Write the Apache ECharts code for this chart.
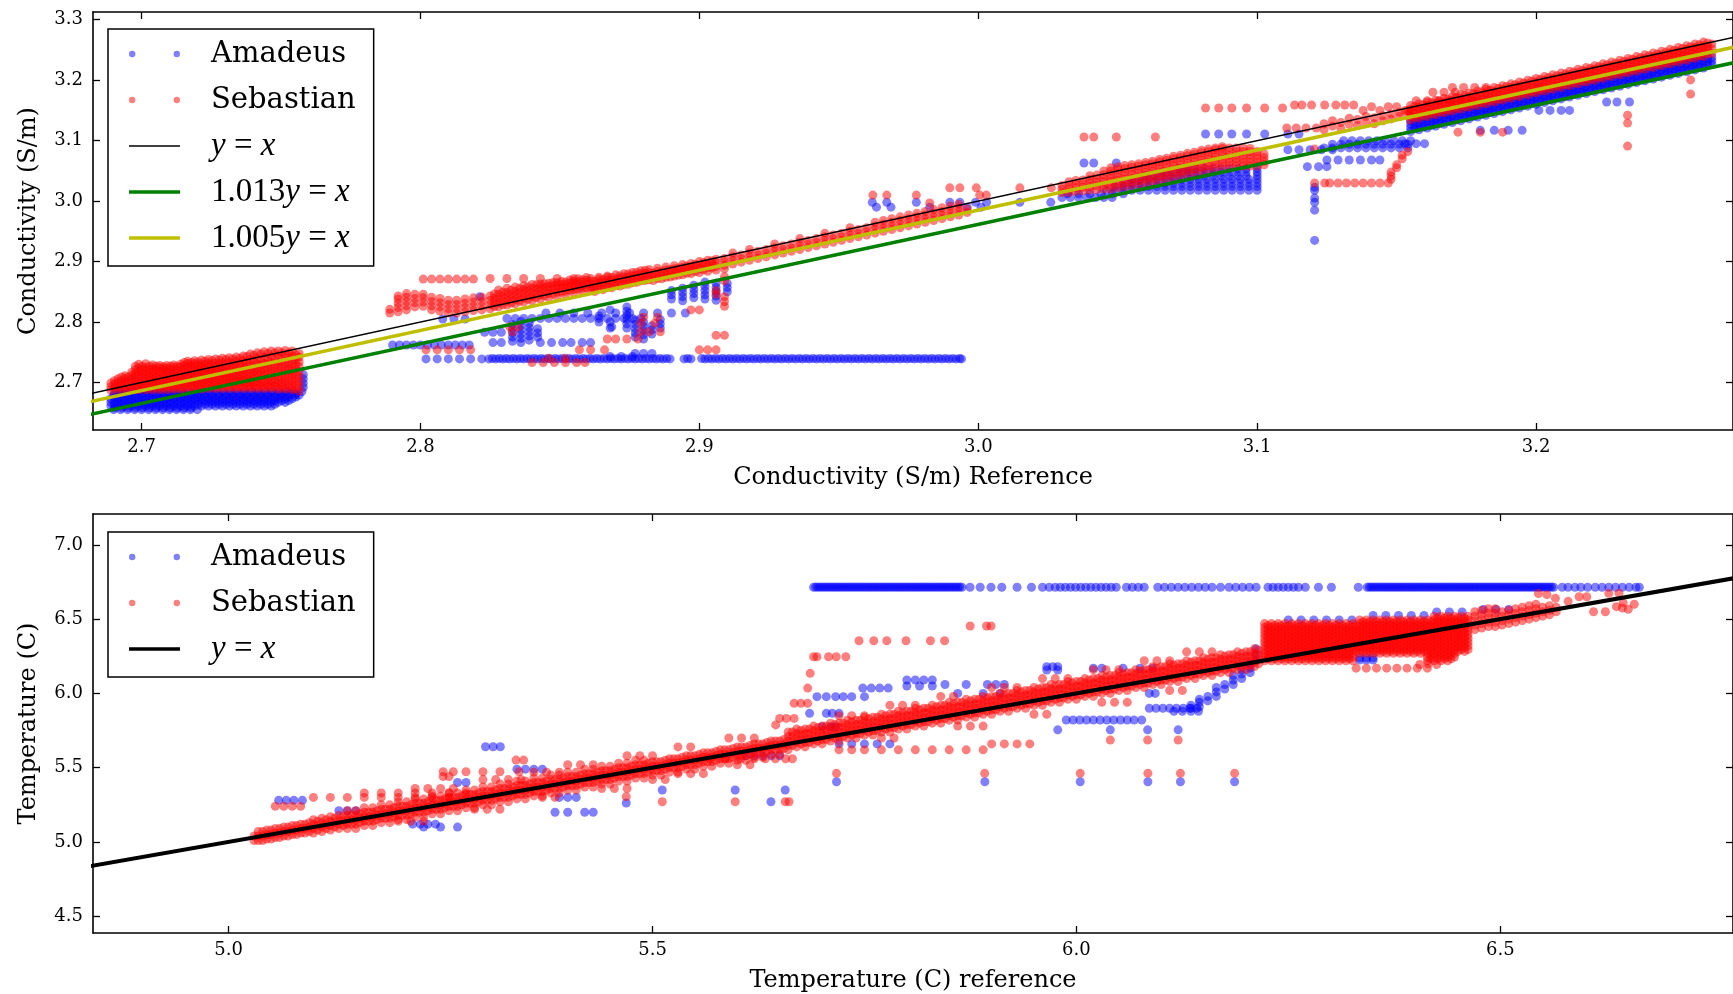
<!DOCTYPE html>
<html><head><meta charset="utf-8">
<script src="https://cdn.jsdelivr.net/npm/echarts@6.0.0/dist/echarts.min.js"></script>
<style>html,body{margin:0;padding:0;background:#fff;}#chart{width:1733px;height:994px;}</style>
</head><body><div id="chart"></div><script>
// ---------- axis ranges and ticks ----------
const condXRange = [2.6826, 3.2706];
const condYRange = [2.6214, 3.3128];
const condXTicks = [2.7, 2.8, 2.9, 3.0, 3.1, 3.2];
const condYTicks = [2.7, 2.8, 2.9, 3.0, 3.1, 3.2, 3.3];
const tempXRange = [4.840, 6.7745];
const tempYRange = [4.387, 7.208];
const tempXTicks = [5.0, 5.5, 6.0, 6.5];
const tempYTicks = [4.5, 5.0, 5.5, 6.0, 6.5, 7.0];

// ---------- reference lines (endpoints) ----------
const condLineX = [2.68, 3.28];
const condLineEq = [2.68, 3.28];       // y = x
const condLine1013 = [2.6456, 3.2379]; // 1.013y = x
const condLine1005 = [2.6667, 3.2637]; // 1.005y = x
const tempLineX = [4.8, 6.8];
const tempLineEq = [4.8, 6.8];         // y = x

// rows: [y, x1, x2, ...]   cols: [x, y1, y2, ...]
// ---------- conductivity: Amadeus ----------
const condAmadeusRows = [
[2.655,2.690,2.6925,2.695,2.6975,2.700,2.7025,2.705,2.7075,2.710,2.7125,2.715,2.7175,2.720],
[2.661,2.689,2.6915,2.694,2.6965,2.699,2.7015,2.704,2.7065,2.709,2.7115,2.714,2.7165,2.719,2.7215,2.724,2.7265,2.729,2.7315,2.734,2.7365,2.739,2.7415,2.744,2.7465],
[2.667,2.689,2.6915,2.694,2.6965,2.699,2.7015,2.704,2.7065,2.709,2.7115,2.714,2.7165,2.719,2.7215,2.724,2.7265,2.729,2.7315,2.734,2.7365,2.739,2.7415,2.744,2.7465,2.749,2.7515],
[2.673,2.689,2.6915,2.694,2.6965,2.699,2.7015,2.704,2.7065,2.709,2.7115,2.714,2.7165,2.719,2.7215,2.724,2.7265,2.729,2.7315,2.734,2.7365,2.739,2.7415,2.744,2.7465,2.749,2.7515,2.754],
[2.679,2.690,2.6925,2.695,2.6975,2.700,2.7025,2.705,2.7075,2.710,2.7125,2.715,2.7175,2.720,2.7225,2.725,2.7275,2.730,2.7325,2.735,2.7375,2.740,2.7425,2.745,2.7475,2.750,2.7525,2.755,2.7565],
[2.685,2.692,2.6945,2.697,2.6995,2.702,2.7045,2.707,2.7095,2.712,2.7145,2.717,2.7195,2.722,2.7245,2.727,2.7295,2.732,2.7345,2.737,2.7395,2.742,2.7445,2.747,2.7495,2.752,2.7545,2.7575],
[2.658,2.6903,2.6928,2.6953,2.6978,2.7003,2.7028,2.7053,2.7078,2.7103,2.7128,2.7153,2.7178],
[2.664,2.6903,2.6928,2.6953,2.6978,2.7003,2.7028,2.7053,2.7078,2.7103,2.7128,2.7153,2.7178,2.7203,2.7228,2.7253,2.7278,2.7303,2.7328,2.7353,2.7378,2.7403,2.7428,2.7453,2.7478],
[2.670,2.6903,2.6928,2.6953,2.6978,2.7003,2.7028,2.7053,2.7078,2.7103,2.7128,2.7153,2.7178,2.7203,2.7228,2.7253,2.7278,2.7303,2.7328,2.7353,2.7378,2.7403,2.7428,2.7453,2.7478,2.7503,2.7528],
[2.676,2.6903,2.6928,2.6953,2.6978,2.7003,2.7028,2.7053,2.7078,2.7103,2.7128,2.7153,2.7178,2.7203,2.7228,2.7253,2.7278,2.7303,2.7328,2.7353,2.7378,2.7403,2.7428,2.7453,2.7478,2.7503,2.7528,2.7553],
[2.682,2.6903,2.6928,2.6953,2.6978,2.7003,2.7028,2.7053,2.7078,2.7103,2.7128,2.7153,2.7178,2.7203,2.7228,2.7253,2.7278,2.7303,2.7328,2.7353,2.7378,2.7403,2.7428,2.7453,2.7478,2.7503,2.7528,2.7553],
[2.762,2.790,2.7925,2.795,2.7975,2.800,2.8025,2.805,2.8075,2.810,2.8125,2.815,2.8175],
[2.739,2.802,2.806,2.810,2.814,2.818,2.822,2.8245,2.827,2.8295,2.832,2.8345,2.837,2.8395,2.842,2.8445,2.847,2.8495,2.852,2.8545,2.857,2.8595,2.862,2.8645,2.867,2.8695,2.872,2.8745,2.877,2.8795,2.882,2.8845,2.887,2.8895,2.8945,2.897,2.902,2.9045,2.907,2.9095,2.912,2.9145,2.917,2.9195,2.922,2.9245,2.927,2.9295,2.932,2.9345,2.937,2.9395,2.942,2.9445,2.947,2.9495,2.952,2.9545,2.957,2.9595,2.962,2.9645,2.967,2.9695,2.972,2.9745,2.977,2.9795,2.982,2.9845,2.987,2.9895,2.992,2.994],
[2.7395,2.8258,2.8283,2.8308,2.8333,2.8358,2.8383,2.8408,2.8433,2.8458,2.8483,2.8508,2.8533,2.8558,2.8583,2.8608,2.8633,2.8658,2.8683,2.8708,2.8733,2.8758,2.8783,2.8808,2.8833,2.8858,2.8883,2.8958,2.9008,2.9033,2.9058,2.9083,2.9108,2.9133,2.9158,2.9183,2.9208,2.9233,2.9258,2.9283,2.9308,2.9333,2.9358,2.9383,2.9408,2.9433,2.9458,2.9483,2.9508,2.9533,2.9558,2.9583,2.9608,2.9633,2.9658,2.9683,2.9708,2.9733,2.9758,2.9783,2.9808,2.9833,2.9858,2.9883,2.9908,2.9933],
[2.743,2.868,2.872,2.876],
[2.805,2.808,2.812,2.816],
[2.842,2.8213],
[2.806,2.831,2.834,2.837,2.840,2.843,2.846,2.849,2.852,2.855,2.858,2.861,2.864,2.867,2.870,2.873,2.876,2.879],
[2.815,2.845,2.850,2.855,2.860,2.865,2.870,2.875,2.880,2.885,2.890,2.895],
[2.766,2.826,2.829,2.843,2.847,2.851,2.854,2.858,2.861],
[2.792,2.8686],
[2.748,2.877,2.880,2.883],
[2.783,2.823,2.826,2.829],
[2.998,2.962,2.9672,2.9778,2.9898,2.9934,2.999,3.003,3.0149,3.026],
[2.990,2.9635,2.9687,2.9826,2.996,3.001],
[3.063,3.0379,3.0414,3.0495],
[3.006,3.030,3.033,3.036,3.039,3.042,3.045,3.048],
[3.012,3.032,3.036,3.040,3.044,3.048,3.052],
[3.018,3.046,3.049,3.052,3.055,3.058,3.061,3.064,3.067,3.070,3.073,3.076,3.079,3.082,3.085,3.088,3.091,3.094,3.097,3.100],
[3.024,3.049,3.052,3.055,3.058,3.061,3.064,3.067,3.070,3.073,3.076,3.079,3.082,3.085,3.088,3.091,3.094,3.097,3.100],
[3.030,3.052,3.055,3.058,3.061,3.064,3.067,3.070,3.073,3.076,3.079,3.082,3.085,3.088,3.091,3.094,3.097,3.100],
[3.036,3.055,3.058,3.061,3.064,3.067,3.070,3.073,3.076,3.079,3.082,3.085,3.088,3.091,3.094,3.097,3.100],
[3.042,3.060,3.063,3.066,3.069,3.072,3.075,3.078,3.081,3.084,3.087,3.090,3.093,3.096,3.100],
[3.048,3.066,3.069,3.072,3.075,3.078,3.081,3.084,3.087,3.090,3.093,3.096,3.100],
[3.054,3.072,3.075,3.078,3.081,3.084,3.087,3.090,3.093,3.096,3.100],
[3.111,3.0815,3.0862,3.0909,3.0962,3.1027,3.111,3.115],
[3.085,3.111,3.115,3.119,3.123,3.127],
[3.088,3.124,3.127,3.130,3.133,3.136,3.139,3.142,3.145,3.148,3.151,3.154],
[3.094,3.127,3.130,3.133,3.136,3.139,3.142,3.145,3.148,3.151,3.154],
[3.100,3.131,3.134,3.137,3.140,3.143,3.146,3.149,3.152,3.155],
[3.068,3.125,3.129,3.133,3.137,3.141,3.144],
[3.057,3.118,3.122,3.125],
[3.095,3.153,3.157,3.160],
[3.150,3.201,3.205,3.209,3.212],
[3.164,3.2253,3.229,3.2335],
[3.117,3.180,3.185,3.190,3.195]
];
const condAmadeusCols = [
[2.758,2.692,2.699,2.706,2.713],
[2.833,2.768,2.775,2.782,2.789,2.796],
[2.836,2.766,2.773,2.780,2.787,2.794,2.801],
[2.839,2.770,2.777,2.784,2.791,2.798],
[2.842,2.775,2.782,2.789],
[2.864,2.800,2.810],
[2.868,2.790,2.800,2.820],
[2.874,2.790,2.797,2.804,2.811,2.818,2.825],
[2.877,2.775,2.782,2.789,2.796,2.803],
[2.880,2.772,2.779,2.786,2.793,2.800],
[2.883,2.780,2.787,2.794],
[2.886,2.790,2.797,2.804],
[2.890,2.838,2.845,2.852],
[2.894,2.835,2.842,2.849,2.856],
[2.898,2.840,2.847,2.854,2.861],
[2.902,2.838,2.845,2.852,2.859,2.866],
[2.906,2.836,2.843,2.850,2.857,2.864],
[2.910,2.850,2.857,2.864],
[3.1206,3.023,3.018,3.005,2.998,2.985,2.935],
[3.155,3.115,3.121,3.127,3.133],[3.158,3.118,3.124,3.130,3.136],[3.161,3.121,3.127,3.133,3.139],
[3.164,3.124,3.130,3.136,3.142],[3.167,3.127,3.133,3.139,3.145],[3.170,3.130,3.136,3.142,3.148],
[3.173,3.133,3.139,3.145,3.151],[3.176,3.136,3.142,3.148,3.154],[3.179,3.139,3.145,3.151,3.157],
[3.182,3.142,3.148,3.154,3.160],[3.185,3.145,3.151,3.157,3.163],[3.188,3.148,3.154,3.160,3.166],
[3.191,3.151,3.157,3.163,3.169],[3.194,3.154,3.160,3.166,3.172],[3.197,3.157,3.163,3.169,3.175],
[3.200,3.160,3.166,3.172,3.178],[3.203,3.163,3.169,3.175,3.181],[3.206,3.166,3.172,3.178,3.184],
[3.209,3.169,3.175,3.181,3.187],[3.212,3.172,3.178,3.184,3.190],[3.215,3.175,3.181,3.187,3.193],
[3.218,3.178,3.184,3.190,3.196],[3.221,3.181,3.187,3.193,3.199],[3.224,3.184,3.190,3.196,3.202],
[3.227,3.187,3.193,3.199,3.205],[3.230,3.190,3.196,3.202,3.208],[3.233,3.193,3.199,3.205,3.211],
[3.236,3.196,3.202,3.208,3.214],[3.239,3.199,3.205,3.211,3.217],[3.242,3.202,3.208,3.214,3.220],
[3.245,3.205,3.211,3.217,3.223],[3.248,3.208,3.214,3.220,3.226],[3.251,3.211,3.217,3.223,3.229],
[3.254,3.214,3.220,3.226,3.232],[3.257,3.217,3.223,3.229,3.235],[3.260,3.220,3.226,3.232,3.238],
[3.263,3.226,3.232,3.238],
[3.1565,3.1195,3.1255,3.1315],[3.1595,3.1225,3.1285,3.1345],[3.1625,3.1255,3.1315,3.1375],
[3.1655,3.1285,3.1345,3.1405],[3.1685,3.1315,3.1375,3.1435],[3.1715,3.1345,3.1405,3.1465],
[3.1745,3.1375,3.1435,3.1495],[3.1775,3.1405,3.1465,3.1525],[3.1805,3.1435,3.1495,3.1555],
[3.1835,3.1465,3.1525,3.1585],[3.1865,3.1495,3.1555,3.1615],[3.1895,3.1525,3.1585,3.1645],
[3.1925,3.1555,3.1615,3.1675],[3.1955,3.1585,3.1645,3.1705],[3.1985,3.1615,3.1675,3.1735],
[3.2015,3.1645,3.1705,3.1765],[3.2045,3.1675,3.1735,3.1795],[3.2075,3.1705,3.1765,3.1825],
[3.2105,3.1735,3.1795,3.1855],[3.2135,3.1765,3.1825,3.1885],[3.2165,3.1795,3.1855,3.1915],
[3.2195,3.1825,3.1885,3.1945],[3.2225,3.1855,3.1915,3.1975],[3.2255,3.1885,3.1945,3.2005],
[3.2285,3.1915,3.1975,3.2035],[3.2315,3.1945,3.2005,3.2065],[3.2345,3.1975,3.2035,3.2095],
[3.2375,3.2005,3.2065,3.2125],[3.2405,3.2035,3.2095,3.2155],[3.2435,3.2065,3.2125,3.2185],
[3.2465,3.2095,3.2155,3.2215],[3.2495,3.2125,3.2185,3.2245],[3.2525,3.2155,3.2215,3.2275],
[3.2555,3.2185,3.2245,3.2305],[3.2585,3.2215,3.2275,3.2335],[3.2615,3.2245,3.2305,3.2365]
];

// ---------- conductivity: Sebastian ----------
const condSebastianRows = [
[2.754,2.802,2.806,2.810,2.814,2.818,2.857,2.861,2.866,2.900,2.903,2.906],
[2.772,2.867,2.870,2.874,2.878],
[2.733,2.840,2.844,2.848,2.852,2.856,2.859],
[2.740,2.846,2.852],
[2.792,2.832,2.835],
[2.784,2.833,2.879,2.882,2.886],
[2.798,2.879,2.884],
[2.808,2.880,2.885],
[2.820,2.897,2.900],
[2.778,2.906,2.909],
[3.010,2.9622,2.9672,2.9778,3.0005,3.0029],
[3.022,2.9898,2.9934,2.9993,3.0149,3.0262],
[2.997,2.9826],
[3.106,3.0379,3.0414,3.0495,3.0635],
[3.154,3.0815,3.0862,3.0909,3.0962,3.1027,3.1091],
[3.159,3.1134,3.116,3.1195,3.1242,3.1282,3.1314,3.1346],
[3.150,3.138,3.144,3.153],
[3.156,3.141,3.147,3.150],
[3.166,3.157,3.161,3.165,3.169,3.173,3.177],
[3.180,3.163,3.167,3.171],
[3.188,3.170,3.174,3.178,3.182],
[3.121,3.1106,3.114,3.1175,3.1212],
[3.030,3.1206,3.1242,3.126,3.129,3.132,3.135,3.138,3.141,3.144,3.147],
[3.086,3.1206],
[3.114,3.172,3.180,3.188]
];
const condSebastianCols = [
// low-left cluster
[2.689,2.687,2.693,2.699],
[2.6915,2.688,2.694,2.700,2.706],
[2.694,2.688,2.694,2.700,2.706,2.711],
[2.6965,2.688,2.694,2.700,2.706,2.712,2.717],
[2.699,2.688,2.694,2.700,2.706,2.712,2.718,2.724,2.730],
[2.7015,2.688,2.694,2.700,2.706,2.712,2.718,2.724,2.731],
[2.704,2.688,2.694,2.700,2.706,2.712,2.718,2.724,2.729],
[2.7065,2.688,2.694,2.700,2.706,2.712,2.718,2.724,2.728],
[2.709,2.688,2.694,2.700,2.706,2.712,2.718,2.724,2.728],
[2.7115,2.689,2.695,2.701,2.707,2.713,2.719,2.725,2.729],
[2.714,2.689,2.695,2.701,2.707,2.713,2.719,2.725,2.730],
[2.7165,2.689,2.695,2.701,2.707,2.713,2.719,2.725,2.731,2.735],
[2.719,2.689,2.695,2.701,2.707,2.713,2.719,2.725,2.731,2.736],
[2.7215,2.689,2.695,2.701,2.707,2.713,2.719,2.725,2.731,2.737],
[2.724,2.690,2.696,2.702,2.708,2.714,2.720,2.726,2.732,2.738],
[2.7265,2.690,2.696,2.702,2.708,2.714,2.720,2.726,2.732,2.739],
[2.729,2.690,2.696,2.702,2.708,2.714,2.720,2.726,2.733,2.740],
[2.7315,2.690,2.696,2.702,2.708,2.714,2.720,2.726,2.734,2.741],
[2.734,2.690,2.696,2.702,2.708,2.714,2.720,2.727,2.735,2.742],
[2.7365,2.690,2.696,2.702,2.708,2.714,2.721,2.728,2.736,2.744],
[2.739,2.690,2.696,2.702,2.708,2.715,2.722,2.730,2.738,2.747],
[2.7415,2.690,2.696,2.702,2.709,2.716,2.723,2.731,2.740,2.749],
[2.744,2.690,2.696,2.703,2.710,2.717,2.724,2.732,2.742,2.751],
[2.7465,2.690,2.696,2.703,2.710,2.718,2.726,2.734,2.743,2.752],
[2.749,2.689,2.696,2.703,2.710,2.718,2.726,2.734,2.744,2.752],
[2.7515,2.689,2.696,2.703,2.711,2.719,2.727,2.735,2.744,2.753],
[2.754,2.688,2.695,2.703,2.711,2.719,2.727,2.735,2.744,2.752],
[2.7565,2.686,2.694,2.702,2.710,2.718,2.726,2.734,2.742,2.748],
[2.6903,2.691,2.697,2.703],
[2.6928,2.691,2.697,2.703,2.709],
[2.6953,2.691,2.697,2.703,2.709],
[2.6978,2.691,2.697,2.703,2.709,2.715,2.721,2.727],
[2.7003,2.691,2.697,2.703,2.709,2.715,2.721,2.727],
[2.7028,2.691,2.697,2.703,2.709,2.715,2.721,2.727],
[2.7053,2.691,2.697,2.703,2.709,2.715,2.721,2.727],
[2.7078,2.691,2.697,2.703,2.709,2.715,2.721,2.726],
[2.7103,2.691,2.697,2.703,2.709,2.715,2.721,2.727],
[2.7128,2.691,2.697,2.703,2.709,2.715,2.721,2.727],
[2.7153,2.692,2.698,2.704,2.710,2.716,2.722,2.728,2.733],
[2.7178,2.692,2.698,2.704,2.710,2.716,2.722,2.728,2.733],
[2.7203,2.692,2.698,2.704,2.710,2.716,2.722,2.728,2.734],
[2.7228,2.693,2.699,2.705,2.711,2.717,2.723,2.729,2.735],
[2.7253,2.693,2.699,2.705,2.711,2.717,2.723,2.729,2.736],
[2.7278,2.693,2.699,2.705,2.711,2.717,2.723,2.730,2.737],
[2.7303,2.693,2.699,2.705,2.711,2.717,2.723,2.730,2.738],
[2.7328,2.693,2.699,2.705,2.711,2.717,2.724,2.731,2.739],
[2.7353,2.693,2.699,2.705,2.711,2.718,2.725,2.732,2.740],
[2.7378,2.693,2.699,2.705,2.712,2.719,2.726,2.734,2.743],
[2.7403,2.693,2.699,2.706,2.713,2.720,2.727,2.736,2.745],
[2.7428,2.693,2.699,2.706,2.713,2.721,2.729,2.737,2.747],
[2.7453,2.693,2.699,2.706,2.714,2.722,2.730,2.738,2.748],
[2.7478,2.693,2.699,2.706,2.714,2.722,2.730,2.739,2.749],
[2.7503,2.692,2.699,2.707,2.715,2.723,2.731,2.740,2.749],
[2.7528,2.692,2.699,2.707,2.715,2.723,2.731,2.740,2.749],
[2.7553,2.690,2.698,2.706,2.714,2.722,2.730,2.738,2.746],
// 2.79 - 2.91
[2.789,2.815,2.821],
[2.792,2.817,2.824,2.831,2.838,2.843],
[2.795,2.820,2.827,2.834,2.841,2.847],
[2.798,2.825,2.832,2.839,2.846],
[2.801,2.826,2.833,2.840,2.846,2.871],
[2.804,2.820,2.827,2.834,2.841,2.871],
[2.807,2.818,2.825,2.832,2.839,2.871],
[2.810,2.815,2.822,2.829,2.836,2.871],
[2.813,2.815,2.822,2.829,2.836,2.871],
[2.816,2.817,2.824,2.831,2.838,2.871],
[2.819,2.819,2.826,2.833,2.840,2.871],
[2.822,2.820,2.827,2.834,2.841],
[2.825,2.822,2.829,2.836,2.843,2.872],
[2.828,2.825,2.832,2.839,2.846,2.853],
[2.831,2.828,2.835,2.842,2.849,2.856,2.872],
[2.834,2.830,2.837,2.844,2.851,2.858],
[2.837,2.833,2.840,2.847,2.854,2.860,2.872],
[2.840,2.835,2.842,2.849,2.856,2.862],
[2.843,2.838,2.845,2.852,2.858,2.863,2.872],
[2.846,2.840,2.847,2.853,2.859,2.864],
[2.849,2.842,2.849,2.855,2.860,2.865,2.872],
[2.852,2.845,2.851,2.857,2.862,2.866],
[2.855,2.848,2.854,2.859,2.864,2.868,2.872],
[2.858,2.850,2.856,2.861,2.866,2.870],
[2.861,2.852,2.858,2.863,2.868,2.872],
[2.864,2.855,2.861,2.866,2.871,2.874],
[2.867,2.858,2.864,2.869,2.874,2.876],
[2.870,2.860,2.866,2.872,2.878],
[2.873,2.862,2.868,2.874,2.880],
[2.876,2.865,2.871,2.877,2.882],
[2.879,2.868,2.874,2.880,2.885],
[2.882,2.870,2.876,2.882,2.887],
[2.885,2.872,2.878,2.884,2.889],
[2.888,2.874,2.880,2.886,2.891],
[2.891,2.876,2.882,2.888,2.893],
[2.894,2.878,2.884,2.890,2.895],
[2.897,2.880,2.886,2.892,2.897],
[2.900,2.882,2.888,2.894,2.900],
[2.903,2.884,2.890,2.896,2.902],
[2.906,2.846,2.852,2.886,2.892,2.898,2.904],
[2.909,2.826,2.834,2.842,2.868,2.875,2.888,2.894,2.900,2.905],
[2.8265,2.8255,2.8325,2.8395,2.8465],[2.8295,2.8285,2.8355,2.8425,2.8495],[2.8325,2.8315,2.8385,2.8455,2.8525],
[2.8355,2.8345,2.8415,2.8485,2.8555],[2.8385,2.8375,2.8445,2.8515,2.8585],[2.8415,2.8405,2.8475,2.8545,2.8615],
[2.8445,2.8435,2.8505,2.8575,2.8635],[2.8475,2.8465,2.8535,2.8605,2.8655],[2.8505,2.8495,2.8565,2.8625,2.8675],
[2.8535,2.8525,2.8585,2.8645,2.8695],[2.8565,2.8545,2.8605,2.8665,2.8715],[2.8595,2.8565,2.8625,2.8685,2.8735],
[2.8625,2.8505,2.8565,2.8625,2.8675],[2.8655,2.8535,2.8595,2.8655,2.8705],[2.8685,2.8565,2.8625,2.8685,2.8735],
[2.8715,2.8595,2.8655,2.8715,2.8765],[2.8745,2.8625,2.8685,2.8745,2.8795],[2.8775,2.8655,2.8715,2.8775,2.8825],
[2.8805,2.8685,2.8745,2.8805,2.8855],[2.8835,2.8685,2.8745,2.8805],[2.8865,2.8715,2.8775,2.8835],
[2.8895,2.8745,2.8805,2.8865],[2.8925,2.8775,2.8835,2.8895],[2.8955,2.8805,2.8865,2.8925],
[2.8985,2.8835,2.8895,2.8955],[2.9015,2.8865,2.8925,2.8985],[2.9045,2.8895,2.8955,2.9015],
// 2.91 - 3.00
[2.912,2.896,2.902,2.908,2.914],[2.915,2.899,2.905,2.911],[2.918,2.902,2.908,2.914,2.920],
[2.921,2.905,2.911,2.917],[2.924,2.908,2.914,2.920],[2.927,2.911,2.917,2.923,2.929],
[2.930,2.914,2.920,2.926],[2.933,2.917,2.923,2.929],[2.936,2.920,2.926,2.932,2.938],
[2.939,2.923,2.929,2.935],[2.942,2.926,2.932,2.938],[2.945,2.929,2.935,2.941,2.947],
[2.948,2.932,2.938,2.944],[2.951,2.935,2.941,2.947],[2.954,2.938,2.944,2.950,2.956],
[2.957,2.941,2.947,2.953],[2.960,2.944,2.950,2.956],[2.963,2.947,2.953,2.959,2.965],
[2.966,2.950,2.956,2.962,2.968],[2.969,2.953,2.959,2.965,2.971],[2.972,2.956,2.962,2.968,2.974],
[2.975,2.959,2.965,2.971,2.977],[2.978,2.962,2.968,2.974,2.980],[2.981,2.965,2.971,2.977,2.983],
[2.984,2.968,2.974,2.980,2.986],[2.987,2.971,2.977,2.983,2.989],[2.990,2.974,2.980,2.986,2.992],
[2.993,2.977,2.983,2.989,2.995],[2.996,2.981,2.987],
// 3.03 - 3.10
[3.030,3.014,3.020,3.026],[3.0325,3.014,3.020,3.026,3.032],[3.035,3.016,3.022,3.028,3.034],
[3.0375,3.017,3.023,3.029,3.035],[3.040,3.018,3.024,3.030,3.036,3.042],[3.0425,3.019,3.025,3.031,3.037,3.043],
[3.045,3.020,3.026,3.032,3.038,3.044,3.050],[3.0475,3.020,3.026,3.032,3.038,3.044,3.050,3.055],
[3.050,3.022,3.028,3.034,3.040,3.046,3.052,3.057],[3.0525,3.024,3.030,3.036,3.042,3.048,3.054,3.059],
[3.055,3.026,3.032,3.038,3.044,3.050,3.056,3.060],[3.0575,3.028,3.034,3.040,3.046,3.052,3.058,3.062],
[3.060,3.030,3.036,3.042,3.048,3.054,3.060,3.064],[3.0625,3.032,3.038,3.044,3.050,3.056,3.062,3.066],
[3.065,3.035,3.041,3.047,3.053,3.059,3.065,3.069],[3.0675,3.037,3.043,3.049,3.055,3.061,3.067,3.071],
[3.070,3.040,3.046,3.052,3.058,3.064,3.070,3.074],[3.0725,3.042,3.048,3.054,3.060,3.066,3.072,3.076],
[3.075,3.045,3.051,3.057,3.063,3.069,3.075,3.079],[3.0775,3.047,3.053,3.059,3.065,3.071,3.077,3.081],
[3.080,3.050,3.056,3.062,3.068,3.074,3.080,3.084],[3.0825,3.052,3.058,3.064,3.070,3.076,3.082,3.086],
[3.085,3.055,3.061,3.067,3.073,3.079,3.085,3.088],[3.0875,3.057,3.063,3.069,3.075,3.081,3.087,3.090],
[3.090,3.058,3.064,3.070,3.076,3.082,3.088],[3.0925,3.058,3.064,3.070,3.076,3.082,3.088],
[3.095,3.058,3.064,3.070,3.076,3.082,3.088],[3.0975,3.058,3.064,3.070,3.076,3.082,3.087],
[3.100,3.058,3.064,3.070,3.076,3.082],[3.1025,3.060,3.066,3.072,3.078],
// 3.12 - 3.27
[3.124,3.118,3.128],[3.127,3.124,3.133],[3.130,3.120,3.130],[3.133,3.127,3.137],[3.136,3.125,3.135],
[3.139,3.130,3.140],[3.142,3.128,3.138],[3.145,3.133,3.141],[3.148,3.036,3.042,3.048,3.136,3.144],
[3.150,3.055,3.060],[3.151,3.140,3.147],[3.152,3.070,3.076],[3.154,3.082,3.144,3.150],
[3.155,3.134,3.140,3.146,3.152,3.158],[3.158,3.137,3.143,3.149,3.155,3.161],[3.161,3.140,3.146,3.152,3.158,3.164],
[3.164,3.143,3.149,3.155,3.161,3.167],[3.167,3.146,3.152,3.158,3.164,3.170],[3.170,3.149,3.155,3.161,3.167,3.173],
[3.173,3.152,3.158,3.164,3.170,3.176],[3.176,3.155,3.161,3.167,3.173,3.179],[3.179,3.158,3.164,3.170,3.176,3.182],
[3.182,3.161,3.167,3.173,3.179,3.185],[3.185,3.164,3.170,3.176,3.182,3.188],[3.188,3.167,3.173,3.179,3.185,3.191],
[3.191,3.170,3.176,3.182,3.188,3.194],[3.194,3.173,3.179,3.185,3.191,3.197],[3.197,3.176,3.182,3.188,3.194,3.200],
[3.200,3.179,3.185,3.191,3.197,3.203],[3.203,3.182,3.188,3.194,3.200,3.206],[3.206,3.185,3.191,3.197,3.203,3.209],
[3.209,3.188,3.194,3.200,3.206,3.212],[3.212,3.191,3.197,3.203,3.209,3.215],[3.215,3.194,3.200,3.206,3.212,3.218],
[3.218,3.197,3.203,3.209,3.215,3.221],[3.221,3.200,3.206,3.212,3.218,3.224],[3.224,3.203,3.209,3.215,3.221,3.227],
[3.227,3.206,3.212,3.218,3.224,3.230],[3.230,3.209,3.215,3.221,3.227,3.233],[3.233,3.212,3.218,3.224,3.230,3.236],
[3.236,3.215,3.221,3.227,3.233,3.239],[3.239,3.218,3.224,3.230,3.236,3.242],[3.242,3.221,3.227,3.233,3.239,3.245],
[3.245,3.224,3.230,3.236,3.242,3.248],[3.248,3.227,3.233,3.239,3.245,3.251],[3.251,3.230,3.236,3.242,3.248,3.254],
[3.254,3.233,3.239,3.245,3.251,3.257],[3.257,3.236,3.242,3.248,3.254,3.260],[3.260,3.239,3.245,3.251,3.257,3.263],
[3.263,3.244,3.252,3.260],
[3.1565,3.1385,3.1445,3.1505,3.1565],[3.1595,3.1415,3.1475,3.1535,3.1595],[3.1625,3.1445,3.1505,3.1565,3.1625],
[3.1655,3.1475,3.1535,3.1595,3.1655],[3.1685,3.1505,3.1565,3.1625,3.1685],[3.1715,3.1535,3.1595,3.1655,3.1715],
[3.1745,3.1565,3.1625,3.1685,3.1745],[3.1775,3.1595,3.1655,3.1715,3.1775],[3.1805,3.1625,3.1685,3.1745,3.1805],
[3.1835,3.1655,3.1715,3.1775,3.1835],[3.1865,3.1685,3.1745,3.1805,3.1865],[3.1895,3.1715,3.1775,3.1835,3.1895],
[3.1925,3.1745,3.1805,3.1865,3.1925],[3.1955,3.1775,3.1835,3.1895,3.1955],[3.1985,3.1805,3.1865,3.1925,3.1985],
[3.2015,3.1835,3.1895,3.1955,3.2015],[3.2045,3.1865,3.1925,3.1985,3.2045],[3.2075,3.1895,3.1955,3.2015,3.2075],
[3.2105,3.1925,3.1985,3.2045,3.2105],[3.2135,3.1955,3.2015,3.2075,3.2135],[3.2165,3.1985,3.2045,3.2105,3.2165],
[3.2195,3.2015,3.2075,3.2135,3.2195],[3.2225,3.2045,3.2105,3.2165,3.2225],[3.2255,3.2075,3.2135,3.2195,3.2255],
[3.2285,3.2105,3.2165,3.2225,3.2285],[3.2315,3.2135,3.2195,3.2255,3.2315],[3.2345,3.2165,3.2225,3.2285,3.2345],
[3.2375,3.2195,3.2255,3.2315,3.2375],[3.2405,3.2225,3.2285,3.2345,3.2405],[3.2435,3.2255,3.2315,3.2375,3.2435],
[3.2465,3.2285,3.2345,3.2405,3.2465],[3.2495,3.2315,3.2375,3.2435,3.2495],[3.2525,3.2345,3.2405,3.2465,3.2525],
[3.2555,3.2375,3.2435,3.2495,3.2555],[3.2585,3.2405,3.2465,3.2525,3.2585],[3.2615,3.2435,3.2495,3.2555,3.2615],
[3.2328,3.142,3.129,3.091],
[3.2554,3.2005,3.177]
];

// ---------- temperature: Amadeus ----------
const tempAmadeusRows = [
[6.715,5.690,5.695,5.700,5.705,5.710,5.715,5.720,5.725,5.730,5.735,5.740,5.745,5.750,5.755,5.760,5.765,5.770,5.775,5.780,5.785,5.790,5.795,5.800,5.805,5.810,5.815,5.820,5.825,5.830,5.835,5.840,5.845,5.850,5.855,5.860,5.865,5.8745,5.8865,5.8993,5.912,5.930,5.947,5.960,5.968,5.975,5.981,5.987,5.993,5.999,6.005,6.011,6.017,6.023,6.029,6.035,6.041,6.047,6.059,6.066,6.073,6.080,6.096,6.104,6.112,6.120,6.128,6.136,6.144,6.152,6.160,6.170,6.180,6.188,6.196,6.204,6.212,6.226,6.232,6.238,6.244,6.250,6.256,6.262,6.270,6.2855,6.3008,6.3325,6.343,6.348,6.353,6.358,6.363,6.368,6.373,6.378,6.383,6.388,6.393,6.398,6.403,6.408,6.413,6.418,6.423,6.428,6.433,6.438,6.443,6.448,6.453,6.458,6.463,6.468,6.473,6.478,6.483,6.488,6.493,6.498,6.503,6.508,6.513,6.518,6.523,6.528,6.533,6.538,6.543,6.548,6.553,6.558,6.563,6.573,6.580,6.588,6.595,6.603,6.612,6.620,6.628,6.636,6.644,6.652,6.660,6.664],
[6.716,5.6925,5.6975,5.7025,5.7075,5.7125,5.7175,5.7225,5.7275,5.7325,5.7375,5.7425,5.7475,5.7525,5.7575,5.7625,5.7675,5.7725,5.7775,5.7825,5.7875,5.7925,5.7975,5.8025,5.8075,5.8125,5.8175,5.8225,5.8275,5.8325,5.8375,5.8425,5.8475,5.8525,5.8575,5.8625,6.3455,6.3505,6.3555,6.3605,6.3655,6.3705,6.3755,6.3805,6.3855,6.3905,6.3955,6.4005,6.4055,6.4105,6.4155,6.4205,6.4255,6.4305,6.4355,6.4405,6.4455,6.4505,6.4555,6.4605,6.4655,6.4705,6.4755,6.4805,6.4855,6.4905,6.4955,6.5005,6.5055,6.5105,6.5155,6.5205,6.5255,6.5305,6.5355,6.5405,6.5455,6.5505,6.5555,6.5605],
[5.28,5.059,5.068,5.077,5.087],
[5.21,5.13,5.14,5.15],
[5.12,5.217,5.226,5.235,5.244],
[5.10,5.23,5.25,5.27],
[5.40,5.27,5.28],
[5.641,5.303,5.312,5.3205],
[5.49,5.34,5.35,5.36,5.37],
[5.30,5.39,5.40,5.41],
[5.20,5.385,5.40,5.42,5.43],
[5.35,5.5115,5.5975,5.6565],
[5.262,5.469],
[5.271,5.6397],
[5.58,5.61,5.62,5.63,5.64,5.65],
[5.66,5.72,5.735,5.75,5.765,5.78],
[5.978,5.694,5.705,5.716,5.725,5.735,5.75],
[5.866,5.6853,5.705,5.712,5.72],
[5.776,5.70,5.71,5.716],
[6.036,5.748,5.758,5.768,5.778],
[6.09,5.80,5.81,5.82,5.83],
[6.05,5.80,5.815,5.83],
[6.06,5.845,5.87,5.895,5.905,5.915],
[6.00,5.86,5.89,5.91,6.086,6.093],
[6.18,5.965,5.972,5.978],
[6.157,5.965,5.978],
[6.17,6.02,6.03,6.055,6.075,6.09],
[5.821,5.988,5.996,6.004,6.012,6.020,6.028,6.036,6.044,6.052,6.060,6.068,6.077],
[5.755,5.978,6.04,6.084,6.12],
[5.405,5.717,5.892,6.0045,6.0843,6.1227,6.1866],
[5.90,6.086,6.094,6.102,6.110,6.118,6.126,6.134,6.142],
[5.88,6.115,6.125,6.135,6.144],
[6.495,6.25,6.265,6.28,6.295,6.31,6.325],
[6.525,6.35,6.365,6.38,6.395,6.41],
[6.548,6.425,6.44,6.455],
[6.565,6.48,6.495,6.51],
[6.225,6.334,6.342,6.35],
[6.24,6.334,6.342,6.35]
];
const tempAmadeusCols = [
[6.135,5.90,5.92],[6.145,5.91,5.94,5.96],[6.155,5.95,5.98],[6.165,5.98,6.01,6.04],[6.175,6.03,6.06],
[6.185,6.06,6.09,6.12],[6.195,6.10,6.13,6.16],[6.205,6.14,6.17,6.20],[6.212,6.22,6.26,6.30]
];

// ---------- temperature: Sebastian ----------
const blockXsA = [6.222,6.230,6.238,6.246,6.254,6.262,6.270,6.278,6.286,6.294,6.302,6.310,6.318,6.326,6.334,6.342,6.350,6.358,6.366,6.374,6.382,6.390,6.398,6.406,6.414,6.422,6.430,6.438,6.446,6.454,6.462];
const blockXsB = [6.226,6.234,6.242,6.250,6.258,6.266,6.274,6.282,6.290,6.298,6.306,6.314,6.322,6.330,6.338,6.346,6.354,6.362,6.370,6.378,6.386,6.394,6.402,6.410,6.418,6.426,6.434,6.442,6.450,6.458];
const tempSebastianRows = [
[6.454,5.8747,5.894,5.8993],
[6.355,5.7436,5.761,5.7763,5.799,5.8278,5.8445],
[6.247,5.690,5.694,5.7076,5.7167,5.728],
[6.135,5.686],[6.036,5.683],
[5.933,5.667,5.675,5.683],
[5.832,5.65,5.658,5.667],
[5.788,5.6453],
[5.62,5.72,5.735,5.75,5.77,5.79,5.81,5.83,5.85,5.87,5.89],
[5.66,5.90,5.915,5.93,5.945],
[5.686,6.04,6.084,6.12],
[5.462,5.717,5.8918,6.0045,6.0843,6.1227,6.1866],
[5.271,5.5115,5.5975,5.6565,5.661],
[5.305,5.469],
[5.551,5.339,5.348],
[5.473,5.253,5.265,5.28,5.30,5.32,5.3425],
[5.44,5.253,5.26],
[5.30,5.10,5.12,5.14,5.16,5.18,5.20,5.22,5.24,5.26],
[5.33,5.16,5.18,5.20,5.22,5.24,5.26,5.28],
[5.24,5.055,5.065,5.075,5.085],
[5.56,5.567,5.586,5.604,5.62,5.633,5.645,5.657,5.665],
[5.36,5.22,5.235,5.25,5.265],[5.42,5.30,5.315,5.33,5.345],[5.47,5.36,5.375,5.39],[5.52,5.40,5.415,5.43],
[5.14,5.20,5.215,5.23],[5.22,5.29,5.305,5.32],[5.30,5.37,5.385],[5.36,5.44,5.455,5.47],[5.42,5.50,5.515],
[5.58,5.47,5.485,5.50],[5.64,5.53,5.545],[5.70,5.59,5.605,5.62],[5.46,5.53,5.545,5.56],[5.52,5.60,5.615],
[5.85,5.72,5.735,5.75],[5.92,5.78,5.795,5.81],[5.98,5.84,5.855],[6.04,5.90,5.915,5.93],[6.10,5.96,5.975,5.99],
[6.16,6.02,6.035,6.05],[6.22,6.08,6.095,6.11],[6.28,6.13,6.145,6.16],
[5.70,5.77,5.785],[5.78,5.86,5.875,5.89],[5.86,5.95,5.965],[5.94,6.03,6.045,6.06],[6.02,6.11,6.125],
[6.17,6.33,6.342,6.354,6.366,6.378,6.39,6.402,6.414],
[6.195,6.405,6.425],[6.20,6.415],
// solid block
[6.22,6.222,6.230,6.238,6.246,6.254,6.262,6.270,6.278,6.286,6.294,6.302,6.310,6.318,6.326,6.414,6.422,6.430,6.438],
[6.245,6.222,6.230,6.238,6.246,6.254,6.262,6.270,6.278,6.286,6.294,6.302,6.310,6.318,6.326,6.414,6.422,6.430,6.438,6.446],
[6.27,6.222,6.230,6.238,6.246,6.254,6.262,6.270,6.278,6.286,6.294,6.302,6.310,6.318,6.326,6.334,6.342,6.350,6.358,6.366,6.374,6.382,6.390,6.398,6.406,6.414,6.422,6.430,6.438,6.446],
[6.295,...blockXsA],[6.32,...blockXsA],[6.345,...blockXsA],[6.37,...blockXsA],
[6.395,...blockXsA],[6.42,...blockXsA],[6.445,...blockXsA],[6.47,...blockXsA],
[6.495,6.334,6.342,6.350,6.358,6.366,6.374,6.382,6.390,6.398,6.406,6.414,6.422,6.430,6.438,6.446,6.454,6.462],
[6.52,6.422,6.430,6.438,6.446,6.454,6.462],
[6.233,6.226,6.234,6.242,6.250,6.258,6.266,6.274,6.282,6.290,6.298,6.306,6.314,6.322,6.418,6.426,6.434,6.442],
[6.258,6.226,6.234,6.242,6.250,6.258,6.266,6.274,6.282,6.290,6.298,6.306,6.314,6.322,6.418,6.426,6.434,6.442],
[6.283,...blockXsB],[6.308,...blockXsB],[6.333,...blockXsB],[6.358,...blockXsB],
[6.383,...blockXsB],[6.408,...blockXsB],[6.433,...blockXsB],[6.458,...blockXsB],
[6.483,6.338,6.346,6.354,6.362,6.370,6.378,6.386,6.394,6.402,6.410,6.418,6.426,6.434,6.442,6.450,6.458],
[6.508,6.426,6.434,6.442,6.450,6.458],
// right-hand scatter
[6.672,6.545],[6.665,6.555],[6.64,6.565],[6.62,6.58],[6.651,6.593,6.602],[6.55,6.61,6.624],
[6.674,6.628,6.64],[6.584,6.637],[6.575,6.644],[6.566,6.651],[6.60,6.658],[6.61,6.645]
];
const tempSebastianCols = [
[5.03,5.01,5.04],[5.04,5.01,5.04,5.07],[5.05,5.02,5.05,5.08],[5.06,5.03,5.06,5.09],
[5.07,5.04,5.07,5.10],[5.08,5.05,5.08,5.11],[5.09,5.06,5.09,5.12],[5.10,5.06,5.09,5.12,5.15],
[5.11,5.07,5.10,5.13,5.16],[5.12,5.08,5.11,5.14,5.17],[5.13,5.09,5.12,5.15,5.18],[5.14,5.09,5.12,5.15,5.18,5.21],
[5.15,5.09,5.12,5.15,5.18,5.21],[5.16,5.11,5.14,5.17,5.20,5.23],[5.17,5.11,5.14,5.17,5.20,5.23],
[5.18,5.13,5.16,5.19,5.22,5.25],[5.19,5.13,5.16,5.19,5.22,5.25],[5.20,5.15,5.18,5.21,5.24,5.27],
[5.21,5.15,5.18,5.21,5.24,5.27],[5.22,5.17,5.20,5.23,5.26,5.29],[5.23,5.17,5.20,5.23,5.26,5.29],
[5.24,5.19,5.22,5.25,5.28,5.31],[5.25,5.19,5.22,5.25,5.28,5.31],[5.26,5.21,5.24,5.27,5.30,5.33],
[5.27,5.21,5.24,5.27,5.30,5.33],[5.28,5.23,5.26,5.29,5.32,5.35],[5.29,5.23,5.26,5.29,5.32,5.35],
[5.30,5.25,5.28,5.31,5.34,5.37],[5.31,5.25,5.28,5.31,5.34,5.37],[5.32,5.27,5.30,5.33,5.36,5.39],
[5.33,5.27,5.30,5.33,5.36,5.39],[5.34,5.29,5.32,5.35,5.38,5.41],[5.35,5.29,5.32,5.35,5.38,5.41],
[5.36,5.31,5.34,5.37,5.40,5.43],[5.37,5.31,5.34,5.37,5.40,5.43],[5.38,5.33,5.36,5.39,5.42,5.45],
[5.39,5.33,5.36,5.39,5.42,5.45],[5.40,5.35,5.38,5.41,5.44,5.47],[5.41,5.35,5.38,5.41,5.44,5.47],
[5.42,5.37,5.40,5.43,5.46,5.49],[5.43,5.37,5.40,5.43,5.46,5.49],[5.44,5.39,5.42,5.45,5.48,5.51],
[5.45,5.39,5.42,5.45,5.48,5.51],[5.46,5.41,5.44,5.47,5.50,5.53],[5.47,5.41,5.44,5.47,5.50,5.53],
[5.48,5.43,5.46,5.49,5.52,5.55],[5.49,5.43,5.46,5.49,5.52,5.55],[5.50,5.45,5.48,5.51,5.54],
[5.51,5.45,5.48,5.51,5.54],[5.52,5.47,5.50,5.53,5.56],[5.53,5.47,5.50,5.53,5.56],
[5.54,5.49,5.52,5.55,5.58],[5.55,5.49,5.52,5.55,5.58],[5.56,5.51,5.54,5.57,5.60],
[5.57,5.51,5.54,5.57,5.60],[5.58,5.53,5.56,5.59,5.62],[5.59,5.53,5.56,5.59,5.62],
[5.60,5.55,5.58,5.61,5.64],[5.61,5.55,5.58,5.61,5.64],[5.62,5.57,5.60,5.63,5.66],
[5.63,5.57,5.60,5.63,5.66],[5.64,5.59,5.62,5.65,5.68],[5.65,5.59,5.62,5.65,5.68],
[5.66,5.62,5.65,5.68,5.71,5.74],[5.67,5.64,5.67,5.70,5.73,5.76],[5.68,5.64,5.67,5.70,5.73,5.76],
[5.69,5.66,5.69,5.72,5.75,5.78],[5.70,5.66,5.69,5.72,5.75,5.78],[5.71,5.68,5.71,5.74,5.77,5.80],
[5.72,5.68,5.71,5.74,5.77,5.80],[5.73,5.70,5.73,5.76,5.79,5.82],[5.74,5.70,5.73,5.76,5.79,5.82],
[5.75,5.72,5.75,5.78,5.81,5.84],[5.76,5.72,5.75,5.78,5.81,5.84],[5.77,5.74,5.77,5.80,5.83,5.86],
[5.78,5.74,5.77,5.80,5.83,5.86],[5.79,5.76,5.79,5.82,5.85,5.88],[5.80,5.76,5.79,5.82,5.85,5.88],
[5.81,5.78,5.81,5.84,5.87,5.90],[5.82,5.78,5.81,5.84,5.87,5.90],[5.83,5.80,5.83,5.86,5.89,5.92],
[5.84,5.80,5.83,5.86,5.89,5.92],[5.85,5.82,5.85,5.88,5.91,5.94],[5.86,5.82,5.85,5.88,5.91,5.94],
[5.87,5.84,5.87,5.90,5.93,5.96],[5.88,5.84,5.87,5.90,5.93,5.96],[5.89,5.86,5.89,5.92,5.95,5.98],
[5.90,5.86,5.89,5.92,5.95,5.98],[5.91,5.88,5.91,5.94,5.97,6.00],[5.92,5.88,5.91,5.94,5.97,6.00],
[5.93,5.90,5.93,5.96,5.99,6.02],[5.94,5.90,5.93,5.96,5.99,6.02],[5.95,5.92,5.95,5.98,6.01,6.04],
[5.96,5.92,5.95,5.98,6.01,6.04],[5.97,5.94,5.97,6.00,6.03,6.06],[5.98,5.94,5.97,6.00,6.03,6.06],
[5.99,5.96,5.99,6.02,6.05,6.08],[6.00,5.96,5.99,6.02,6.05,6.08],[6.01,5.98,6.01,6.04,6.07,6.10],
[6.02,5.98,6.01,6.04,6.07,6.10],[6.03,6.00,6.03,6.06,6.09,6.12],[6.04,6.00,6.03,6.06,6.09,6.12],
[6.05,6.02,6.05,6.08,6.11,6.14],[6.06,6.02,6.05,6.08,6.11,6.14],[6.07,6.04,6.07,6.10,6.13,6.16],
[6.08,6.04,6.07,6.10,6.13,6.16],[6.09,6.06,6.09,6.12,6.15,6.18],[6.10,6.06,6.09,6.12,6.15,6.18],
[6.11,6.08,6.11,6.14,6.17,6.20],[6.12,6.08,6.11,6.14,6.17,6.20],[6.13,6.10,6.13,6.16,6.19,6.22],
[6.14,6.10,6.13,6.16,6.19,6.22],[6.15,6.12,6.15,6.18,6.21,6.24],[6.16,6.12,6.15,6.18,6.21,6.24],
[6.17,6.14,6.17,6.20,6.23,6.26],[6.18,6.14,6.17,6.20,6.23,6.26],[6.19,6.16,6.19,6.22,6.25,6.28],
[6.20,6.16,6.19,6.22,6.25,6.28],[6.21,6.18,6.21,6.24,6.27,6.30],
// dense core along the line
[5.035,5.01,5.04,5.07],[5.045,5.02,5.05,5.08],[5.055,5.03,5.06,5.09],[5.065,5.04,5.07,5.10],
[5.075,5.05,5.08,5.11],[5.085,5.06,5.09,5.12],[5.095,5.07,5.10,5.13],[5.105,5.08,5.11,5.14],
[5.115,5.09,5.12,5.15],[5.125,5.10,5.13,5.16],[5.135,5.11,5.14,5.17],[5.145,5.12,5.15,5.18],
[5.155,5.13,5.16,5.19],[5.165,5.14,5.17,5.20],[5.175,5.15,5.18,5.21],[5.185,5.16,5.19,5.22],
[5.195,5.17,5.20,5.23],[5.205,5.18,5.21,5.24],[5.215,5.19,5.22,5.25],[5.225,5.20,5.23,5.26],
[5.235,5.21,5.24,5.27],[5.245,5.22,5.25,5.28],[5.255,5.23,5.26,5.29],[5.265,5.24,5.27,5.30],
[5.275,5.25,5.28,5.31],[5.285,5.26,5.29,5.32],[5.295,5.27,5.30,5.33],[5.305,5.28,5.31,5.34],
[5.315,5.29,5.32,5.35],[5.325,5.30,5.33,5.36],[5.335,5.31,5.34,5.37],[5.345,5.32,5.35,5.38],
[5.355,5.33,5.36,5.39],[5.365,5.34,5.37,5.40],[5.375,5.35,5.38,5.41],[5.385,5.36,5.39,5.42],
[5.395,5.37,5.40,5.43],[5.405,5.38,5.41,5.44],[5.415,5.39,5.42,5.45],[5.425,5.40,5.43,5.46],
[5.435,5.41,5.44,5.47],[5.445,5.42,5.45,5.48],[5.455,5.43,5.46,5.49],[5.465,5.44,5.47,5.50],
[5.475,5.45,5.48,5.51],[5.485,5.46,5.49,5.52],[5.495,5.47,5.50,5.53],[5.505,5.48,5.51,5.54],
[5.515,5.49,5.52,5.55],[5.525,5.50,5.53,5.56],[5.535,5.51,5.54,5.57],[5.545,5.52,5.55,5.58],
[5.555,5.53,5.56,5.59],[5.565,5.54,5.57,5.60],[5.575,5.55,5.58,5.61],[5.585,5.56,5.59,5.62],
[5.595,5.57,5.60,5.63],[5.605,5.58,5.61,5.64],[5.615,5.59,5.62,5.65],[5.625,5.60,5.63,5.66],
[5.635,5.61,5.64,5.67],[5.645,5.62,5.65,5.68],[5.655,5.63,5.66,5.69],
[5.665,5.65,5.68,5.71,5.74],[5.675,5.66,5.69,5.72,5.75],[5.685,5.67,5.70,5.73,5.76],[5.695,5.68,5.71,5.74,5.77],
[5.705,5.69,5.72,5.75,5.78],[5.715,5.70,5.73,5.76,5.79],[5.725,5.71,5.74,5.77,5.80],[5.735,5.72,5.75,5.78,5.81],
[5.745,5.73,5.76,5.79,5.82],[5.755,5.74,5.77,5.80,5.83],[5.765,5.75,5.78,5.81,5.84],[5.775,5.76,5.79,5.82,5.85],
[5.785,5.77,5.80,5.83,5.86],[5.795,5.78,5.81,5.84,5.87],[5.805,5.79,5.82,5.85,5.88],[5.815,5.80,5.83,5.86,5.89],
[5.825,5.81,5.84,5.87,5.90],[5.835,5.82,5.85,5.88,5.91],[5.845,5.83,5.86,5.89,5.92],[5.855,5.84,5.87,5.90,5.93],
[5.865,5.85,5.88,5.91,5.94],[5.875,5.86,5.89,5.92,5.95],[5.885,5.87,5.90,5.93,5.96],[5.895,5.88,5.91,5.94,5.97],
[5.905,5.89,5.92,5.95,5.98],[5.915,5.90,5.93,5.96,5.99],[5.925,5.91,5.94,5.97,6.00],[5.935,5.92,5.95,5.98,6.01],
[5.945,5.93,5.96,5.99,6.02],[5.955,5.94,5.97,6.00,6.03],[5.965,5.95,5.98,6.01,6.04],[5.975,5.96,5.99,6.02,6.05],
[5.985,5.97,6.00,6.03,6.06],[5.995,5.98,6.01,6.04,6.07],[6.005,5.99,6.02,6.05,6.08],[6.015,6.00,6.03,6.06,6.09],
[6.025,6.01,6.04,6.07,6.10],[6.035,6.02,6.05,6.08,6.11],[6.045,6.03,6.06,6.09,6.12],[6.055,6.04,6.07,6.10,6.13],
[6.065,6.05,6.08,6.11,6.14],[6.075,6.06,6.09,6.12,6.15],[6.085,6.07,6.10,6.13,6.16],[6.095,6.08,6.11,6.14,6.17],
[6.105,6.09,6.12,6.15,6.18],[6.115,6.10,6.13,6.16,6.19],[6.125,6.11,6.14,6.17,6.20],[6.135,6.12,6.15,6.18,6.21],
[6.145,6.13,6.16,6.19,6.22],[6.155,6.14,6.17,6.20,6.23],[6.165,6.15,6.18,6.21,6.24],[6.175,6.16,6.19,6.22,6.25],
[6.185,6.17,6.20,6.23,6.26],[6.195,6.18,6.21,6.24,6.27],[6.205,6.19,6.22,6.25,6.28],[6.215,6.20,6.23,6.26,6.29],
// upper-right end of the band
[6.470,6.43,6.46,6.49,6.52,6.55],[6.478,6.44,6.47,6.50,6.53,6.56],[6.486,6.45,6.48,6.51,6.54,6.57],
[6.494,6.45,6.48,6.51,6.54,6.57],
[6.502,6.46,6.49,6.52,6.55],[6.510,6.47,6.50,6.53,6.56],[6.518,6.48,6.51,6.54,6.57],
[6.526,6.49,6.52,6.55,6.58],[6.534,6.50,6.53,6.56,6.59],[6.542,6.51,6.54,6.57,6.60],
[6.550,6.52,6.55,6.58],[6.558,6.53,6.56,6.59],[6.566,6.55,6.58]
];

// ---------- build point lists ----------
function buildPoints(rows, cols) {
  const pts = [];
  rows.forEach(r => { for (let i = 1; i < r.length; i++) pts.push([r[i], r[0]]); });
  cols.forEach(c => { for (let i = 1; i < c.length; i++) pts.push([c[0], c[i]]); });
  return pts;
}
const pair = (xs, ys) => xs.map((x, i) => [x, ys[i]]);

const FONT = 'DejaVu Serif';
const MATH = 'Liberation Serif';
const BLUE = '#0000ff', RED = '#ff0000', GREEN = '#008000', OLIVE = '#bfbf00';

const dotsIcon = 'path://M0,3.2A3.2,3.2,0,1,1,6.4,3.2A3.2,3.2,0,1,1,0,3.2ZM44.6,3.2A3.2,3.2,0,1,1,51,3.2A3.2,3.2,0,1,1,44.6,3.2Z';
const thinLine = 'path://M0,0H51V1.5H0Z';
const thickLine = 'path://M0,0H51V3.6H0Z';

// math-style legend labels: upright digits, italic variables
function mathFmt(name) {
  if (name.indexOf('=') < 0) return name;
  const m = name.match(/^([0-9.]*)y = x$/);
  return (m[1] ? '{m|' + m[1] + '}' : '') + '{i|y}{m| = }{i|x}';
}
function makeLegend(top, items) {
  return {
    orient: 'vertical', left: 108, top: top,
    data: items, selectedMode: false,
    itemWidth: 51, itemHeight: 8, itemGap: 12, symbolKeepAspect: true,
    padding: [8, 18, 11, 21],
    backgroundColor: '#fff', borderColor: '#000', borderWidth: 1.5, borderRadius: 0,
    formatter: mathFmt,
    textStyle: { fontFamily: FONT, fontSize: 29, color: '#000', lineHeight: 34, padding: [0, 0, 0, 26],
      rich: {
        i: { fontFamily: MATH, fontStyle: 'italic', fontSize: 33, lineHeight: 34, color: '#000' },
        m: { fontFamily: MATH, fontSize: 33, lineHeight: 34, color: '#000' }
      } }
  };
}
function valueAxis(grid, pos, range, ticks, show, name, nameGap) {
  const ax = {
    type: 'value', gridIndex: grid, position: pos, min: range[0], max: range[1],
    axisLine: { show: true, onZero: false, lineStyle: { color: '#000', width: 1.6 } },
    axisTick: { show: true, inside: true, length: 7, customValues: ticks, lineStyle: { color: '#000', width: 1.3 } },
    axisLabel: { show: show, customValues: ticks, formatter: v => Number(v).toFixed(1),
      fontFamily: FONT, fontSize: 18, color: '#000', margin: (pos === 'left' ? 10 : 8) },
    splitLine: { show: false }
  };
  if (name) {
    ax.name = name; ax.nameLocation = 'middle'; ax.nameGap = nameGap;
    ax.nameTextStyle = { fontFamily: FONT, fontSize: 24, color: '#000' };
  }
  return ax;
}
function scatter(name, data, xi, yi, color, z) {
  return { type: 'scatter', name: name, data: data, xAxisIndex: xi, yAxisIndex: yi,
    symbol: 'circle', symbolSize: 9, large: false, progressive: 0, z: z,
    itemStyle: { color: color, opacity: 0.5, borderWidth: 0 }, emphasis: { disabled: true } };
}
function line(name, data, xi, yi, color, width, z) {
  return { type: 'line', name: name, data: data, xAxisIndex: xi, yAxisIndex: yi,
    showSymbol: false, symbol: 'none', z: z, color: color,
    lineStyle: { color: color, width: width }, emphasis: { disabled: true } };
}

const chart = echarts.init(document.getElementById('chart'), null, { renderer: 'canvas' });
chart.setOption({
  animation: false,
  backgroundColor: '#fff',
  grid: [
    { left: 93, top: 12, width: 1642, height: 418 },
    { left: 93, top: 514, width: 1642, height: 419 }
  ],
  xAxis: [
    valueAxis(0, 'bottom', condXRange, condXTicks, true, 'Conductivity (S/m) Reference', 36),
    valueAxis(0, 'top', condXRange, condXTicks, false),
    valueAxis(1, 'bottom', tempXRange, tempXTicks, true, 'Temperature (C) reference', 36),
    valueAxis(1, 'top', tempXRange, tempXTicks, false)
  ],
  yAxis: [
    valueAxis(0, 'left', condYRange, condYTicks, true, 'Conductivity (S/m)', 52),
    valueAxis(0, 'right', condYRange, condYTicks, false),
    valueAxis(1, 'left', tempYRange, tempYTicks, true, 'Temperature (C)', 52),
    valueAxis(1, 'right', tempYRange, tempYTicks, false)
  ],
  legend: [
    makeLegend(29, [
      { name: 'Amadeus', icon: dotsIcon, itemStyle: { color: BLUE, opacity: 0.5, borderWidth: 0 } },
      { name: 'Sebastian', icon: dotsIcon, itemStyle: { color: RED, opacity: 0.5, borderWidth: 0 } },
      { name: 'y = x', icon: thinLine, itemStyle: { color: '#000', opacity: 1, borderWidth: 0 } },
      { name: '1.013y = x', icon: thickLine, itemStyle: { color: GREEN, opacity: 1, borderWidth: 0 } },
      { name: '1.005y = x', icon: thickLine, itemStyle: { color: OLIVE, opacity: 1, borderWidth: 0 } }
    ]),
    makeLegend(532, [
      { name: 'Amadeus', icon: dotsIcon, itemStyle: { color: BLUE, opacity: 0.5, borderWidth: 0 } },
      { name: 'Sebastian', icon: dotsIcon, itemStyle: { color: RED, opacity: 0.5, borderWidth: 0 } },
      { name: 'y = x', icon: thickLine, itemStyle: { color: '#000', opacity: 1, borderWidth: 0 } }
    ])
  ],
  series: [
    scatter('Amadeus', buildPoints(condAmadeusRows, condAmadeusCols), 0, 0, BLUE, 2),
    scatter('Sebastian', buildPoints(condSebastianRows, condSebastianCols), 0, 0, RED, 3),
    line('y = x', pair(condLineX, condLineEq), 0, 0, '#000', 1.5, 4),
    line('1.013y = x', pair(condLineX, condLine1013), 0, 0, GREEN, 3.5, 5),
    line('1.005y = x', pair(condLineX, condLine1005), 0, 0, OLIVE, 3.5, 6),
    scatter('Amadeus', buildPoints(tempAmadeusRows, tempAmadeusCols), 2, 2, BLUE, 2),
    scatter('Sebastian', buildPoints(tempSebastianRows, tempSebastianCols), 2, 2, RED, 3),
    line('y = x', pair(tempLineX, tempLineEq), 2, 2, '#000', 4, 4)
  ]
});
</script></body></html>
